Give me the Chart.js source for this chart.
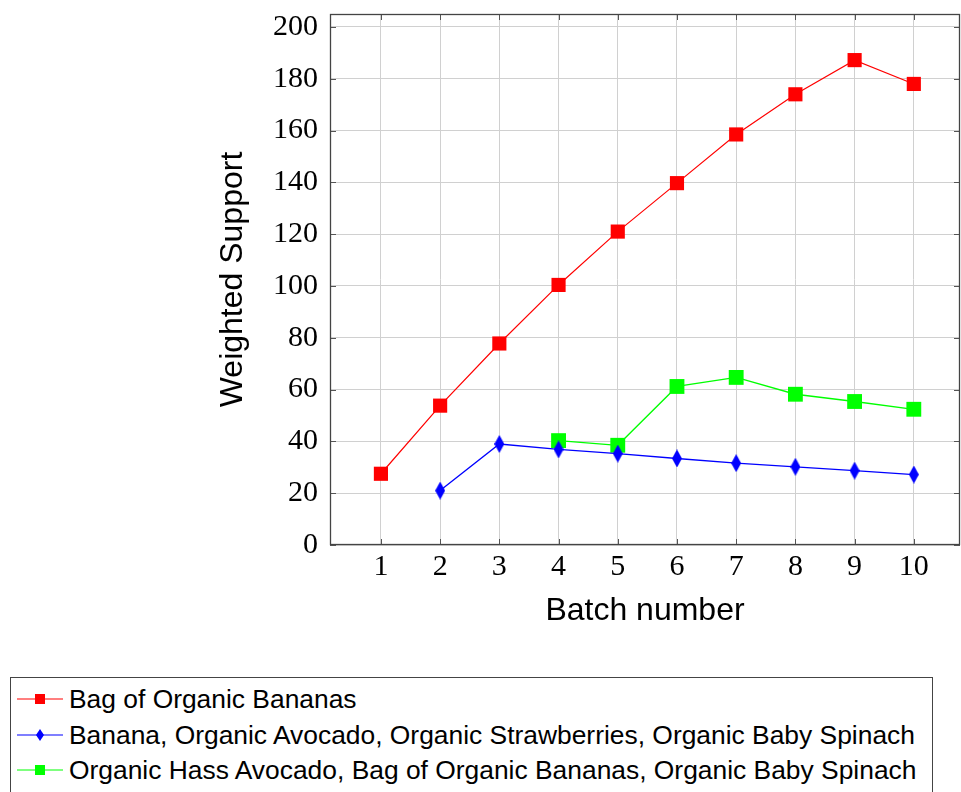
<!DOCTYPE html>
<html>
<head>
<meta charset="utf-8">
<script src="https://cdn.jsdelivr.net/npm/chart.js@4/dist/chart.umd.min.js"></script>
<style>
html, body { margin: 0; padding: 0; background: #fff; overflow: hidden; }
#wrap { position: relative; width: 961px; height: 792px; overflow: hidden; }
#chart { position: absolute; left: 0; top: 0; }
#legend { position: absolute; left: 10px; top: 677px; width: 923px; height: 130px; border: 1px solid #444; box-sizing: border-box;
  font-family: "Liberation Sans", Arial, sans-serif; font-size: 26.4px; color: #000; background: #fff; }
.row { position: absolute; left: 6px; height: 36px; display: flex; align-items: center; white-space: nowrap; }
.row svg { margin-right: 5px; }
</style>
</head>
<body>
<div id="wrap">
  <canvas id="chart" width="961" height="792"></canvas>
  <div id="legend"></div>
</div>
<script>
// dados
const batches = [1, 2, 3, 4, 5, 6, 7, 8, 9, 10];
const bagBananas = [27.5, 53.8, 77.8, 100.4, 121, 139.7, 158.5, 174, 187.2, 178];
const bananaMix = [null, 21, 39, 36.9, 35.3, 33.4, 31.6, 30.2, 28.7, 27.2];
const hassMix = [null, null, null, 40.3, 38.5, 61.2, 64.7, 58.2, 55.4, 52.4];
const seriesLabels = [
  'Bag of Organic Bananas',
  'Banana, Organic Avocado, Organic Strawberries, Organic Baby Spinach',
  'Organic Hass Avocado, Bag of Organic Bananas, Organic Baby Spinach'
];

function points(vals) {
  return batches.map((b, i) => ({ x: b, y: vals[i] })).filter(p => p.y !== null);
}

// losango alongado para a série azul
function diamond(w, h, color) {
  const c = document.createElement('canvas');
  c.width = w; c.height = h;
  const g = c.getContext('2d');
  g.fillStyle = color;
  g.beginPath();
  g.moveTo(w / 2, 0); g.lineTo(w, h / 2); g.lineTo(w / 2, h); g.lineTo(0, h / 2);
  g.closePath(); g.fill();
  return c;
}

const serif = '"Liberation Serif", "Times New Roman", serif';
const sans = '"Liberation Sans", Arial, sans-serif';

// moldura e marcas de tick internas (estilo pgfplots)
const frame = {
  id: 'frame',
  afterDraw(chart) {
    const { ctx, chartArea: a, scales: { x, y } } = chart;
    ctx.save();
    ctx.strokeStyle = '#555';
    ctx.lineWidth = 1;
    ctx.beginPath();
    x.ticks.forEach(t => {
      const px = Math.round(x.getPixelForValue(t.value)) + 0.5;
      ctx.moveTo(px, a.bottom); ctx.lineTo(px, a.bottom - 6);
      ctx.moveTo(px, a.top); ctx.lineTo(px, a.top + 6);
    });
    y.ticks.forEach(t => {
      const py = Math.round(y.getPixelForValue(t.value)) + 0.5;
      ctx.moveTo(a.left, py); ctx.lineTo(a.left + 6, py);
      ctx.moveTo(a.right, py); ctx.lineTo(a.right - 6, py);
    });
    ctx.stroke();
    ctx.strokeStyle = '#444';
    ctx.lineWidth = 1.3;
    ctx.strokeRect(a.left + 0.5, a.top + 0.5, a.right - a.left - 1, a.bottom - a.top - 1);
    ctx.restore();
  }
};

const datasets = [
  { label: seriesLabels[0], data: points(bagBananas), borderColor: '#ff0000', backgroundColor: '#ff0000',
    borderWidth: 1.2, pointStyle: 'rect', pointRadius: 10, pointBorderWidth: 0 },
  { label: seriesLabels[1], data: points(bananaMix), borderColor: '#0000ff', backgroundColor: '#0000ff',
    borderWidth: 1.3, pointStyle: diamond(10, 18, '#0000ff'), pointRadius: 9, pointBorderWidth: 0 },
  { label: seriesLabels[2], data: points(hassMix), borderColor: '#00ff00', backgroundColor: '#00ff00',
    borderWidth: 1.3, pointStyle: 'rect', pointRadius: 10.5, pointBorderWidth: 0 }
];

const chart = new Chart(document.getElementById('chart'), {
  type: 'line',
  data: { datasets: datasets },
  options: {
    responsive: false,
    animation: false,
    layout: { autoPadding: false, padding: { left: 214, right: 1, top: 14, bottom: 162 } },
    plugins: { legend: { display: false }, tooltip: { enabled: false } },
    scales: {
      x: {
        type: 'linear', min: 0.14, max: 10.78,
        afterFit(s) { s.height = 85; s.paddingLeft = 0; s.paddingRight = 0; },
        ticks: { stepSize: 1, includeBounds: false, padding: 4, color: '#000', font: { family: serif, size: 30 } },
        grid: { color: '#d0d0d0', drawTicks: false },
        border: { display: false },
        title: { display: true, text: 'Batch number', color: '#000', padding: 0, font: { family: sans, size: 32 } }
      },
      y: {
        min: 0, max: 205,
        afterFit(s) { s.width = 116; s.paddingTop = 0; s.paddingBottom = 0; },
        ticks: { stepSize: 20, includeBounds: false, padding: 12, color: '#000', font: { family: serif, size: 30 } },
        grid: { color: '#d0d0d0', drawTicks: false },
        border: { display: false },
        title: { display: true, text: 'Weighted Support', color: '#000', padding: 0, font: { family: sans, size: 32 } }
      }
    }
  },
  plugins: [frame]
});

// legenda em HTML, montada a partir dos datasets
const legend = document.getElementById('legend');
const rowCenters = [21, 57, 92];
datasets.forEach((ds, i) => {
  const row = document.createElement('div');
  row.className = 'row';
  row.style.top = (rowCenters[i] - 18) + 'px';
  const c = ds.borderColor;
  const mark = i === 1
    ? `<polygon points="23,4 27,10 23,16 19,10" fill="${c}"/>`
    : `<rect x="18" y="5" width="10" height="10" fill="${c}"/>`;
  row.innerHTML = `<svg width="47" height="20"><line x1="0" y1="10" x2="46" y2="10" stroke="${c}" stroke-width="1.2"/>${mark}</svg><span>${ds.label}</span>`;
  legend.appendChild(row);
});
</script>
</body>
</html>
